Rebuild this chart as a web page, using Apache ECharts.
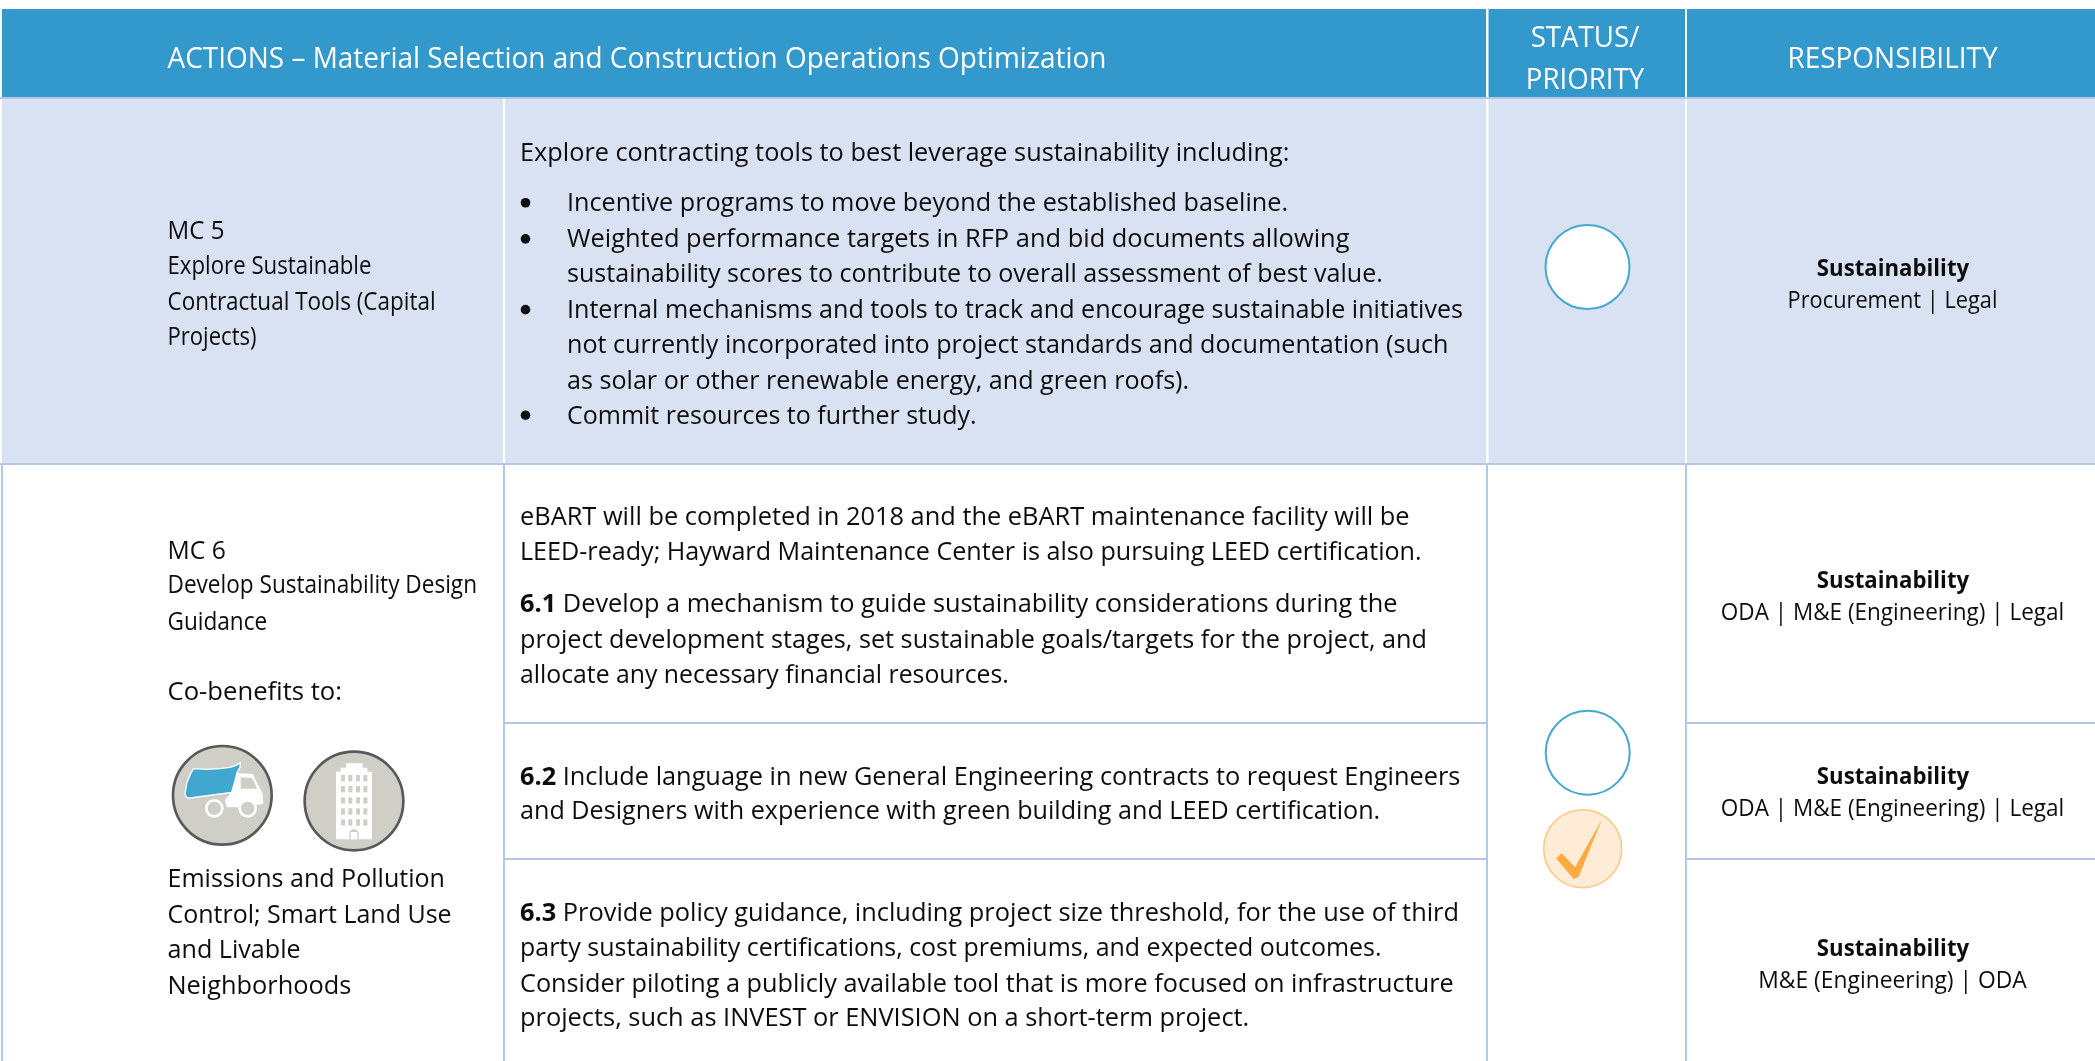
<!DOCTYPE html>
<html><head><meta charset="utf-8">
<style>html,body{margin:0;padding:0;background:#fff}#c{width:2095px;height:1061px}</style>
<script src="https://cdn.jsdelivr.net/npm/echarts@6/dist/echarts.min.js"></script>
</head><body><div id="c"></div>
<script>
// ---------- content ----------
const headerTitle = 'ACTIONS – Material Selection and Construction Operations Optimization';
const headerStatus = ['STATUS/', 'PRIORITY'];
const headerResp = 'RESPONSIBILITY';
const leftMc5 = ['MC 5', 'Explore Sustainable', 'Contractual Tools (Capital', 'Projects)'];
const leftMc6 = ['MC 6', 'Develop Sustainability Design', 'Guidance'];
const leftCo = ['Co-benefits to:'];
const leftBenefits = ['Emissions and Pollution', 'Control; Smart Land Use', 'and Livable', 'Neighborhoods'];
const mc5Intro = ['Explore contracting tools to best leverage sustainability including:'];
const mc5Bullets = [
  'Incentive programs to move beyond the established baseline.',
  'Weighted performance targets in RFP and bid documents allowing',
  'sustainability scores to contribute to overall assessment of best value.',
  'Internal mechanisms and tools to track and encourage sustainable initiatives',
  'not currently incorporated into project standards and documentation (such',
  'as solar or other renewable energy, and green roofs).',
  'Commit resources to further study.'
];
const mc6Body = [
  'eBART will be completed in 2018 and the eBART maintenance facility will be',
  'LEED-ready; Hayward Maintenance Center is also pursuing LEED certification.',
  '{b|6.1} Develop a mechanism to guide sustainability considerations during the',
  'project development stages, set sustainable goals/targets for the project, and',
  'allocate any necessary financial resources.',
  '{b|6.2} Include language in new General Engineering contracts to request Engineers',
  'and Designers with experience with green building and LEED certification.',
  '{b|6.3} Provide policy guidance, including project size threshold, for the use of third',
  'party sustainability certifications, cost premiums, and expected outcomes.',
  'Consider piloting a publicly available tool that is more focused on infrastructure',
  'projects, such as INVEST or ENVISION on a short-term project.'
];
const respOwner = ['Sustainability', 'Sustainability', 'Sustainability', 'Sustainability'];
const respOthers = ['Procurement | Legal', 'ODA | M&E (Engineering) | Legal', 'ODA | M&E (Engineering) | Legal', 'M&E (Engineering) | ODA'];

// ---------- layout (y centres and right ends measured on the 1568-wide view, u() converts) ----------
const u = v => v * 2095 / 1568;
const DY = 2.3;
const colX = [504, 1487, 1686];
const hY = { top: 9, bottom: 97, row1: 463, r2a: 722, r2b: 858, end: 1061 };
const mc5LeftY = [172, 198, 225, 251], mc5LeftEnd = [168, 278, 326, 192];
const mc6LeftY = [411, 437, 464], mc6LeftEnd = [169, 357, 200];
const coY = [517], coEnd = [256];
const benefitsY = [657, 684, 710, 737], benefitsEnd = [333, 338, 225, 263];
const introY = [113], introEnd = [965];
const bulletY = [151, 178, 204, 231, 257, 284, 310], bulletEnd = [964, 1010, 1035, 1095, 1084, 890, 731];
const bulletDots = [0, 1, 3, 6];
const mc6Y = [386, 412, 451, 478, 504, 580, 606, 682, 708, 735, 761];
const mc6End = [1055, 1064, 1046, 1068, 755, 1093, 1033, 1092, 1034, 1088, 935];
const respY = [[200, 224], [433, 457], [580, 604], [709, 733]];
const respOwnerW = [114, 114, 114, 114], respOthersW = [157, 257, 257, 201];

const C = { head: '#3398cc', line: '#b4c7e7', band: '#d9e2f3', ink: '#0d0d0d', ring: '#45a8cf' };
const FF = '"Open Sans"';
const meas = document.createElement('canvas').getContext('2d');
function widthOf(t, size, weight) {
  const m = t.match(/^\{b\|(.*?)\}(.*)$/);
  const w = (s, wt) => { meas.font = wt + ' ' + size + 'px ' + FF; return meas.measureText(s).width; };
  return m ? w(m[1], 'bold') + w(m[2], 'normal') : w(t, weight || 'normal');
}
const SZ = { head: 29, body: 25.6, side: 25.6, resp: 23.5 };
const kHead = 939 / widthOf(headerTitle, SZ.head);

const els = [];
const rect = (x, y, w, h, fill) => els.push({ type: 'rect', silent: true, shape: { x, y, width: w, height: h }, style: { fill } });
function text(t, x, y, size, k, o) {
  o = o || {};
  els.push({ type: 'text', silent: true, x, y: y + DY, scaleX: k, style: {
    text: t, align: o.align || 'left', verticalAlign: 'middle',
    font: (o.weight || 'normal') + ' ' + size + 'px ' + FF, fill: o.fill || C.ink,
    rich: { b: { fontWeight: 'bold', fontFamily: FF, fontSize: size, fill: C.ink } }
  }});
}
// a left-aligned line fitted between x and a right end
function line(t, x, y, endU, size) {
  text(t, x, u(y), size, (u(endU) - x) / widthOf(t, size));
}
// a centred line fitted to a width
function cline(t, x, y, wU, size, weight) {
  text(t, x, u(y), size, u(wU) / widthOf(t, size, weight), { align: 'center', weight });
}
function ring(cx, cy, r, fill, stroke, lw) {
  els.push({ type: 'circle', silent: true, shape: { cx, cy, r }, style: { fill, stroke, lineWidth: lw } });
}

// ----- fills -----
rect(2, hY.top, 2093, hY.bottom - hY.top, C.head);
rect(2, hY.bottom + 2, 2093, hY.row1 - hY.bottom - 2, C.band);
rect(colX[0] - 1, hY.bottom, 2, hY.row1 - hY.bottom, '#ffffff');
rect(colX[1] - 1, hY.top, 2.5, hY.row1 - hY.top, '#ffffff');
rect(colX[2] - 1, hY.top, 2, hY.row1 - hY.top, '#ffffff');
rect(0, hY.bottom, 2095, 2, C.line);
rect(0, hY.row1, 2095, 2, C.line);
rect(1, hY.row1, 2, hY.end - hY.row1, C.line);
colX.forEach(x => rect(x - 1, hY.row1, 2, hY.end - hY.row1, C.line));
rect(colX[0], hY.r2a, colX[1] - colX[0], 2, C.line);
rect(colX[2], hY.r2a, 2095 - colX[2], 2, C.line);
rect(colX[0], hY.r2b, colX[1] - colX[0], 2, C.line);
rect(colX[2], hY.r2b, 2095 - colX[2], 2, C.line);

// ----- header text -----
text(headerTitle, 167.5, u(43), SZ.head, kHead, { fill: '#fff' });
headerStatus.forEach((t, i) => text(t, 1585, u([27, 59][i]), SZ.head, kHead * 0.99, { fill: '#fff', align: 'center' }));
text(headerResp, 1892.5, u(43), SZ.head, kHead, { fill: '#fff', align: 'center' });

// ----- left column -----
const LX = 167.5;
leftMc5.forEach((t, i) => line(t, LX, mc5LeftY[i], mc5LeftEnd[i], SZ.side));
leftMc6.forEach((t, i) => line(t, LX, mc6LeftY[i], mc6LeftEnd[i], SZ.side));
leftCo.forEach((t, i) => line(t, LX, coY[i], coEnd[i], SZ.side));
leftBenefits.forEach((t, i) => line(t, LX, benefitsY[i], benefitsEnd[i], SZ.side));

// ----- middle column -----
mc5Intro.forEach((t, i) => line(t, 520, introY[i], introEnd[i], SZ.body));
mc5Bullets.forEach((t, i) => line(t, 567, bulletY[i], bulletEnd[i], SZ.body));
bulletDots.forEach(i => els.push({ type: 'circle', silent: true,
  shape: { cx: 525.5, cy: u(bulletY[i]) + 1, r: 4.8 }, style: { fill: C.ink } }));
mc6Body.forEach((t, i) => line(t, 520, mc6Y[i], mc6End[i], SZ.body));

// ----- responsibility -----
respOwner.forEach((t, i) => {
  cline(t, 1893, respY[i][0], respOwnerW[i], SZ.resp, 'bold');
  cline(respOthers[i], 1892.5, respY[i][1], respOthersW[i], SZ.resp);
});

// ----- status marks -----
ring(1587.5, 267, 42, '#fff', C.ring, 2);
ring(1587.7, 752.7, 42, '#fff', C.ring, 2);
ring(1582.7, 848.7, 39, '#feecd6', '#fdc98a', 1.6);
els.push({ type: 'group', silent: true, x: 1480, y: 680, scaleX: 1 / 3, scaleY: 1 / 3, children: [
  { type: 'polygon', shape: { points: [[228,535],[245,520],[285,562],[366,418],[296,590],[281,597]] }, style: { fill: '#fbab3f' } }
]});

// ----- co-benefit icons (drawn in a 3x local space) -----
const GREY = '#cfcfc8';
els.push({ type: 'group', silent: true, x: 130, y: 720, scaleX: 1 / 3, scaleY: 1 / 3, children: [
  { type: 'circle', shape: { cx: 277, cy: 226, r: 148 }, style: { fill: GREY, stroke: '#595959', lineWidth: 8 } },
  { type: 'polygon', shape: { points: [[305,158],[368,162],[398,222],[400,252],[380,254],[330,262],[290,262],[285,240],[305,215]] }, style: { fill: '#fff' } },
  { type: 'polygon', shape: { points: [[332,172],[366,174],[382,206],[332,206]] }, style: { fill: GREY } },
  { type: 'polygon', shape: { points: [[190,146],[230,148],[270,146],[300,142],[318,136],[331,128],[330,142],[322,156],[305,217],[180,234],[170,233],[165,222],[170,190],[180,165]] }, style: { fill: '#3fa7d0', stroke: '#fff', lineWidth: 4 } },
  { type: 'circle', shape: { cx: 253, cy: 265, r: 24 }, style: { fill: GREY, stroke: '#fff', lineWidth: 8 } },
  { type: 'circle', shape: { cx: 353, cy: 265, r: 24 }, style: { fill: GREY, stroke: '#fff', lineWidth: 8 } }
]});
const winCols = [633, 655, 678, 700], winRows = [165, 198, 232, 265, 298];
const winRects = [];
winRows.forEach(y => winCols.forEach(x => winRects.push({ type: 'rect', shape: { x, y, width: 12, height: 19 }, style: { fill: GREY } })));
els.push({ type: 'group', silent: true, x: 130, y: 720, scaleX: 1 / 3, scaleY: 1 / 3, children: [
  { type: 'circle', shape: { cx: 672, cy: 243, r: 148 }, style: { fill: GREY, stroke: '#595959', lineWidth: 8 } },
  { type: 'polygon', shape: { points: [[648,130],[698,130],[698,143],[712,143],[712,155],[726,155],[726,358],[618,358],[618,155],[632,155],[632,143],[648,143]] }, style: { fill: '#fff' } }
].concat(winRects, [
  { type: 'polygon', shape: { points: [[658,358],[658,335],[665,329],[672,327],[679,329],[686,335],[686,358]] }, style: { fill: GREY } },
  { type: 'rect', shape: { x: 662, y: 336, width: 20, height: 22 }, style: { fill: '#fff' } }
])});

const chart = echarts.init(document.getElementById('c'), null, { renderer: 'canvas' });
chart.setOption({ animation: false, backgroundColor: '#ffffff', graphic: { elements: els } });
</script></body></html>
